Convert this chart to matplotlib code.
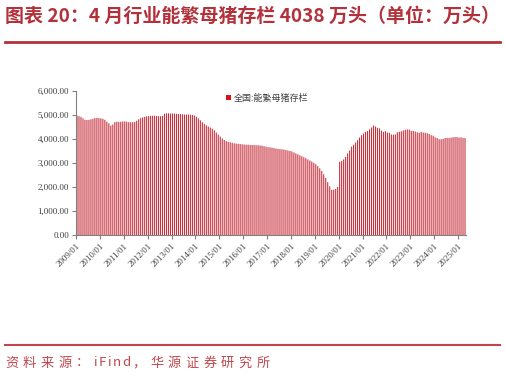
import matplotlib.pyplot as plt
from matplotlib.lines import Line2D
import numpy as np

plt.rcParams['font.family'] = ['Noto Sans CJK SC', 'DejaVu Sans']

# monthly sow inventory, 2009/01 - 2025/04 (万头)
sows = [
    4970, 4950, 4920, 4860, 4800, 4790, 4800, 4820, 4840, 4870, 4880, 4870,  # 2009
    4860, 4840, 4800, 4720, 4650, 4560, 4600, 4700, 4720, 4710, 4720, 4730,  # 2010
    4730, 4720, 4700, 4700, 4700, 4710, 4760, 4820, 4870, 4900, 4920, 4940,  # 2011
    4950, 4960, 4970, 4970, 4960, 4950, 4950, 4960, 5050, 5070, 5070, 5060,  # 2012
    5060, 5060, 5050, 5040, 5040, 5030, 5020, 5020, 5020, 5010, 5000, 4980,  # 2013
    4930, 4860, 4780, 4700, 4630, 4570, 4520, 4480, 4430, 4360, 4270, 4180,  # 2014
    4100, 4020, 3960, 3910, 3880, 3860, 3840, 3820, 3810, 3800, 3790, 3780,  # 2015
    3770, 3760, 3760, 3750, 3750, 3750, 3740, 3740, 3730, 3720, 3700, 3680,  # 2016
    3660, 3650, 3640, 3620, 3600, 3590, 3580, 3570, 3560, 3540, 3520, 3500,  # 2017
    3480, 3440, 3400, 3360, 3320, 3280, 3240, 3200, 3150, 3100, 3060, 3010,  # 2018
    2950, 2870, 2780, 2670, 2530, 2380, 2200, 2030, 1880, 1890, 1920, 2000,  # 2019
    3050, 3080, 3150, 3250, 3400, 3520, 3680, 3760, 3850, 3950, 4060, 4160,  # 2020
    4230, 4300, 4330, 4400, 4480, 4560, 4520, 4470, 4440, 4350, 4300, 4330,  # 2021
    4270, 4260, 4190, 4180, 4190, 4280, 4300, 4320, 4360, 4380, 4400, 4390,  # 2022
    4340, 4340, 4310, 4280, 4260, 4300, 4270, 4260, 4240, 4210, 4160, 4140,  # 2023
    4070, 4040, 3990, 3990, 4000, 4040, 4040, 4040, 4060, 4070, 4080, 4080,  # 2024
    4060, 4070, 4040, 4038,                                                  # 2025
]
years = list(range(2009, 2026))
tick_labels = [f'{y}/01' for y in years]
y_ticks = [0, 1000, 2000, 3000, 4000, 5000, 6000]

W, H = 506, 378
red = '#B3313A'
fig = plt.figure(figsize=(W / 100, H / 100), dpi=100)

ax = fig.add_axes([76 / W, 1 - 235 / H, 390 / W, 144 / H])
x = np.arange(len(sows))
ax.bar(x, sows, width=0.55, color='#C8303C', linewidth=0, snap=False,
       label='全国:能繁母猪存栏')
ax.set_xlim(-0.5, len(sows) - 0.5)
ax.set_ylim(0, 6000)

ax.set_yticks(y_ticks)
ax.set_yticklabels([f'{v:,.2f}' for v in y_ticks], fontfamily='Liberation Serif',
                   fontsize=6.5, color='#404040')
ax.set_xticks(np.arange(0, len(sows), 12) - 0.5)
ax.set_xticklabels(tick_labels, rotation=45, ha='right', rotation_mode='anchor',
                   fontfamily='Liberation Serif', fontsize=6.5, color='#404040')
ax.tick_params(axis='both', length=3, width=0.8, color='#808080', pad=2)
for s in ['top', 'right']:
    ax.spines[s].set_visible(False)
for s in ['left', 'bottom']:
    ax.spines[s].set_color('#808080')
    ax.spines[s].set_linewidth(0.8)

leg = ax.legend(loc='center', bbox_to_anchor=(0.49, 0.95), frameon=False, fontsize=6.5,
                handlelength=0.5, handleheight=0.5, handletextpad=0.3, labelcolor='#404040')
leg.legend_handles[0].set_color('#E0101A')

# title and rules
fig.text(5 / W, 1 - 16 / H, '图表 20：4 月行业能繁母猪存栏 4038 万头（单位：万头）',
         fontsize=13.7, fontweight='bold', color=red, ha='left', va='center')
fig.add_artist(Line2D([5 / W, 500 / W], [1 - 41.5 / H] * 2, color=red, lw=2))
fig.add_artist(Line2D([5 / W, 500 / W], [1 - 345 / H] * 2, color='#C0464E', lw=1.5))


def spaced_text(x_px, y_px, s, **kw):
    r = fig.canvas.get_renderer()
    for ch in s:
        t = fig.text(x_px / W, 1 - y_px / H, ch, ha='left', va='center', **kw)
        gap = 1.5 if ch.isascii() else 4.5
        x_px += t.get_window_extent(r).width + gap


spaced_text(5, 363, '资料来源：iFind，华源证券研究所', fontsize=9.5, color='#C0464E')

fig.savefig('out.png', dpi=100)
